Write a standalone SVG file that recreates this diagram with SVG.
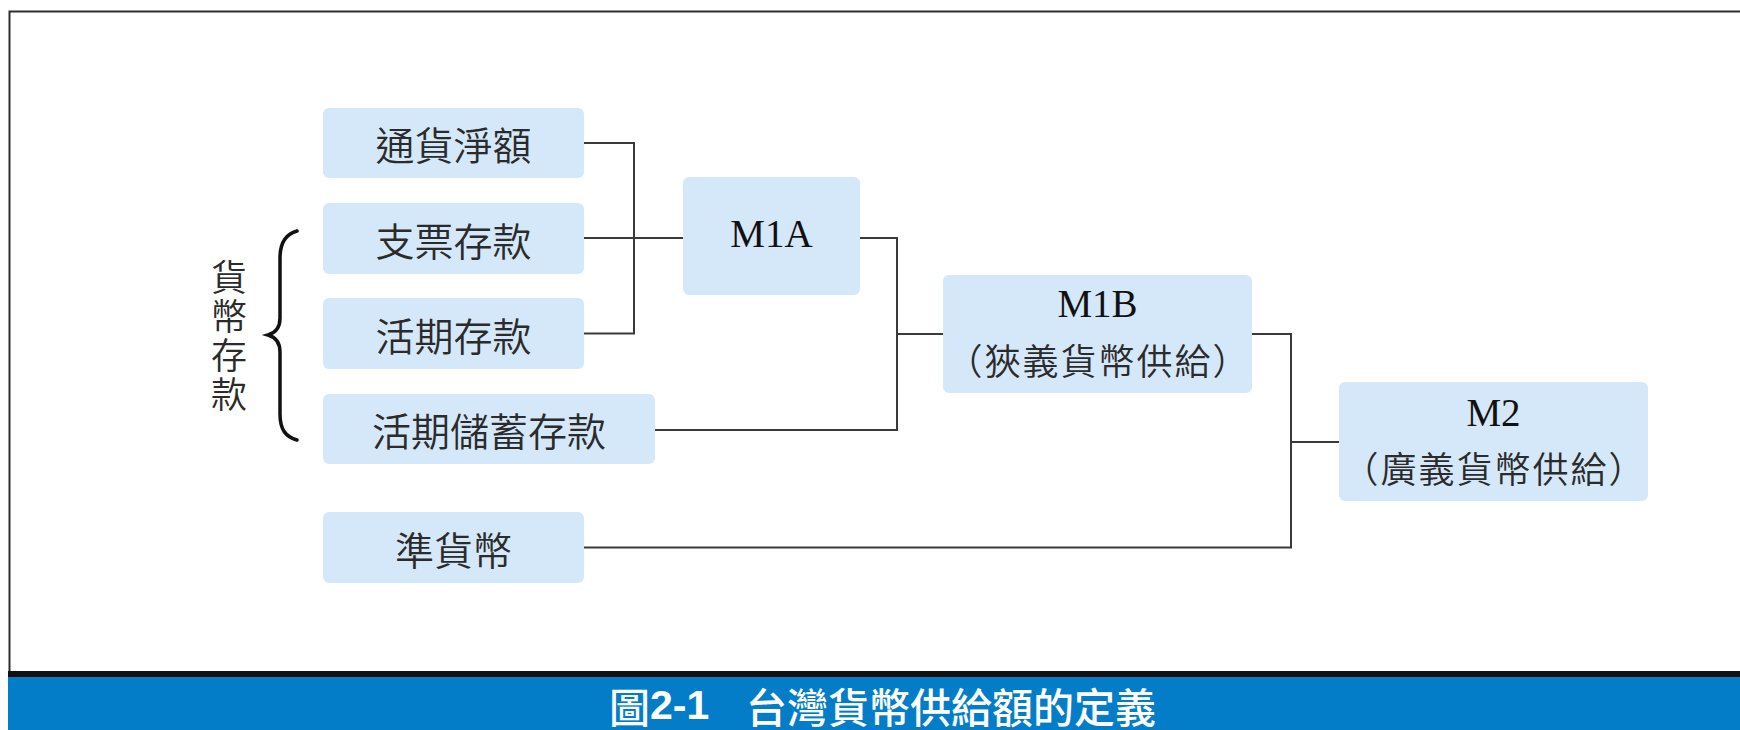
<svg xmlns="http://www.w3.org/2000/svg" width="1740" height="730" viewBox="0 0 1740 730">
<style>
.box{fill:#D5E8FA}
.cjk{font-family:"Noto Sans CJK TC","Noto Sans CJK SC",sans-serif;fill:#2b2b2b;font-size:39px;font-weight:350;text-anchor:middle;dominant-baseline:central}
.cjk2{font-family:"Noto Sans CJK TC","Noto Sans CJK SC",sans-serif;fill:#2b2b2b;font-size:36px;font-weight:350;text-anchor:middle;dominant-baseline:central;letter-spacing:2px}
.ser{font-family:"Liberation Serif","Times New Roman",serif;fill:#111;font-size:39px;text-anchor:middle}
.conn{fill:none;stroke:#3a3a3a;stroke-width:2}
.cap{font-family:"Noto Sans CJK TC","Noto Sans CJK SC",sans-serif;fill:#fff;font-size:41px;font-weight:500;dominant-baseline:central}
</style>
<rect x="0" y="0" width="1740" height="730" fill="#fff"/>
<g id="frame">
<path d="M9.5 671 V11.5 H1740" fill="none" stroke="#2e2e2e" stroke-width="2"/>
<rect x="8" y="671" width="1732" height="7" fill="#111"/>
<rect x="8" y="677" width="1732" height="53" fill="#037DC8"/>
</g>
<g id="connectors">
<path class="conn" d="M584 143 H634 V333.5 H584"/>
<path class="conn" d="M584 238 H683"/>
<path class="conn" d="M860 238 H897 V430 H655"/>
<path class="conn" d="M897 334 H943"/>
<path class="conn" d="M1252 334 H1291 V547.5 H584"/>
<path class="conn" d="M1291 442 H1339"/>
</g>
<g id="node-tonghuo">
<rect class="box" x="323" y="108" width="261" height="70" rx="6"/>
<text class="cjk" x="453.5" y="143">通貨淨額</text>
</g>
<g id="node-zhipiao">
<rect class="box" x="323" y="203" width="261" height="71" rx="6"/>
<text class="cjk" x="453.5" y="238.5">支票存款</text>
</g>
<g id="node-huoqi">
<rect class="box" x="323" y="298" width="261" height="71" rx="6"/>
<text class="cjk" x="453.5" y="333.5">活期存款</text>
</g>
<g id="node-huoqichuxu">
<rect class="box" x="323" y="394" width="332" height="70" rx="6"/>
<text class="cjk" x="489" y="429">活期儲蓄存款</text>
</g>
<g id="node-zhunhuobi">
<rect class="box" x="323" y="512" width="261" height="71" rx="6"/>
<text class="cjk" x="453.5" y="547.5">準貨幣</text>
</g>
<g id="node-m1a">
<rect class="box" x="683" y="177" width="177" height="118" rx="6"/>
<text class="ser" x="771.5" y="247">M1A</text>
</g>
<g id="node-m1b">
<rect class="box" x="943" y="275" width="309" height="118" rx="6"/>
<text class="ser" x="1097.5" y="317">M1B</text>
<text class="cjk2" x="1098.5" y="359">（狹義貨幣供給）</text>
</g>
<g id="node-m2">
<rect class="box" x="1339" y="382" width="309" height="119" rx="6"/>
<text class="ser" x="1493.5" y="426">M2</text>
<text class="cjk2" x="1494.5" y="466.5">（廣義貨幣供給）</text>
</g>
<g id="brace-label">
<path d="M297 231 C286 234 280 242 280 258 L280 318 C280 328 275 333 268 335 C275 337 280 342 280 352 L280 414 C280 430 286 437 297 440" fill="none" stroke="#111" stroke-width="3.5" stroke-linecap="round"/>
<text class="cjk" style="font-size:36px;writing-mode:vertical-rl;letter-spacing:3px;dominant-baseline:auto" x="229" y="337">貨幣存款</text>
</g>
<g id="caption">
<text class="cap" x="609" y="705">圖<tspan font-family="Liberation Sans, Arial, sans-serif" font-weight="bold">2-1</tspan></text>
<text class="cap" x="746" y="705">台灣貨幣供給額的定義</text>
</g>
</svg>
